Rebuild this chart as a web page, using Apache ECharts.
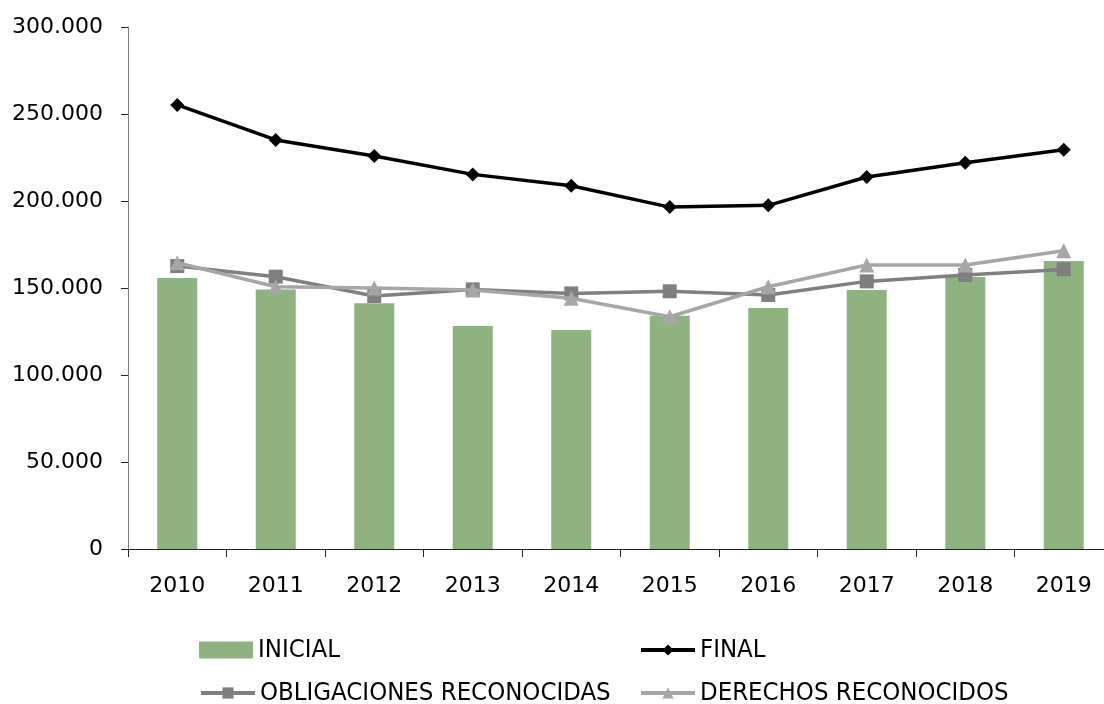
<!DOCTYPE html>
<html><head><meta charset="utf-8">
<script src="https://cdn.jsdelivr.net/npm/echarts@6/dist/echarts.min.js"></script>
<style>html,body{margin:0;padding:0;background:#fff}#c{width:1104px;height:704px}</style>
</head><body><div id="c"></div>
<script>
const years = ['2010','2011','2012','2013','2014','2015','2016','2017','2018','2019'];
const inicial = [155700,149200,141200,128200,125900,134100,138500,148900,156300,165500];
const final = [255200,235100,225900,215300,208800,196500,197500,213800,222000,229500];
const obligaciones = [162600,156500,145400,149200,146900,148100,146000,153800,157500,160700];
const derechos = [164500,150700,150000,148900,144100,133500,150700,163200,163200,171400];
const yTicks = [0,50000,100000,150000,200000,250000,300000];

const fmt = v => String(v).replace(/\B(?=(\d{3})+(?!\d))/g, '.');
const chart = echarts.init(document.getElementById('c'));
const legendText = {fontFamily:'"Liberation Sans Narrow","DejaVu Sans Condensed",sans-serif', fontSize:25.5, color:'#000'};
const axisFont = '"DejaVu Sans",sans-serif';
chart.setOption({
  animation:false,
  grid:{left:128, top:27, width:985, height:522, containLabel:false, outerBoundsMode:'none'},
  legend:[
    {left:199, top:637, padding:0, itemWidth:54, itemHeight:17, icon:'rect', textStyle:legendText, data:[{name:'INICIAL'}]},
    {left:639, top:637, padding:0, itemWidth:54, itemHeight:14, textStyle:legendText, lineStyle:{width:4}, data:[{name:'FINAL'}]},
    {left:199, top:680, padding:0, itemWidth:54, itemHeight:14, textStyle:legendText, lineStyle:{width:4}, data:[{name:'OBLIGACIONES RECONOCIDAS'}]},
    {left:639, top:680, padding:0, itemWidth:54, itemHeight:14, textStyle:legendText, lineStyle:{width:4}, data:[{name:'DERECHOS RECONOCIDOS'}]}
  ],
  xAxis:{type:'category', data:years, boundaryGap:true,
    axisLine:{lineStyle:{color:'#222', width:1}},
    axisTick:{show:true, length:8, lineStyle:{color:'#222'}},
    axisLabel:{fontFamily:axisFont, fontSize:22, color:'#000', margin:26}},
  yAxis:{type:'value', min:0, max:300000, interval:50000,
    axisLine:{show:true, lineStyle:{color:'#7f7f7f', width:1}},
    axisTick:{show:true, length:7, lineStyle:{color:'#222'}},
    splitLine:{show:false},
    axisLabel:{fontFamily:axisFont, fontSize:22, color:'#000', margin:25,
      formatter:v=> yTicks.includes(v) ? fmt(v) : ''}},
  series:[
    {name:'INICIAL', type:'bar', data:inicial, barWidth:40, itemStyle:{color:'#8eb380'}},
    {name:'FINAL', type:'line', data:final, symbol:'diamond', symbolSize:14,
      lineStyle:{color:'#000', width:3.5}, itemStyle:{color:'#000'}, z:5},
    {name:'OBLIGACIONES RECONOCIDAS', type:'line', data:obligaciones, symbol:'rect', symbolSize:14,
      lineStyle:{color:'#7f7f7f', width:3.5}, itemStyle:{color:'#7f7f7f'}, z:3},
    {name:'DERECHOS RECONOCIDOS', type:'line', data:derechos, symbol:'triangle', symbolSize:15,
      lineStyle:{color:'#a6a6a6', width:3.5}, itemStyle:{color:'#a6a6a6'}, z:4}
  ]
});
</script></body></html>
